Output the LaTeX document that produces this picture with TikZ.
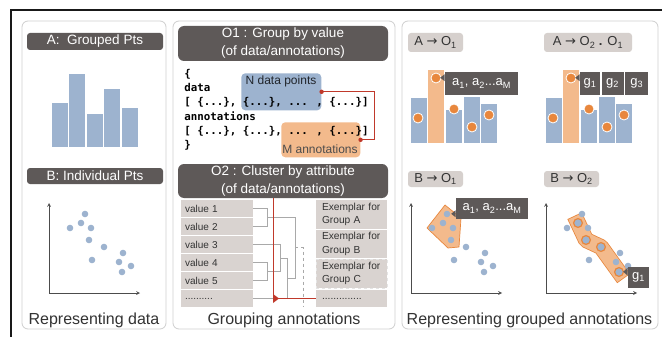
\documentclass[tikz,border=0pt]{standalone}
\usepackage{fontspec}
\setmainfont{Liberation Sans}
\newfontfamily\codefont{DejaVu Sans Mono}
\newfontfamily\arrfont{DejaVu Sans}
\usetikzlibrary{positioning}
\definecolor{darkhead}{HTML}{5E5958}
\definecolor{barblue}{HTML}{9DB3CF}
\definecolor{barorange}{HTML}{F3BA8C}
\definecolor{dotorange}{HTML}{E8873D}
\definecolor{taggray}{HTML}{D6D0CD}
\definecolor{listgray}{HTML}{D9D3D0}
\definecolor{framegray}{HTML}{CFCFCF}
\definecolor{linkred}{HTML}{C0392B}
\definecolor{treegray}{HTML}{A9A9A9}
\definecolor{textdark}{HTML}{333333}
\newcommand{\arr}{{\arrfont →}}
\newcommand{\dotrow}{..........}

\begin{document}
\begin{tikzpicture}[
                x = 1pt,
                y = -1pt,
                >= stealth,
                semithick
                ]

                \tikzstyle{panel}=[
                        draw = framegray,
                        line width = 0.8pt,
                        rounded corners = 6pt,
                        fill = white
                ]
                \tikzstyle{header}=[
                        fill = darkhead,
                        text = white,
                        rounded corners = 3pt,
                        inner sep = 0pt,
                        font = \fontsize{13.5}{18}\selectfont
                ]
                \tikzstyle{tag}=[
                        fill = taggray,
                        text = textdark,
                        rounded corners = 3pt,
                        inner sep = 0pt,
                        font = \fontsize{13}{15}\selectfont
                ]
                \tikzstyle{callout}=[
                        fill = darkhead,
                        text = white,
                        inner sep = 0pt,
                        minimum height = 23pt,
                        font = \fontsize{13}{15}\selectfont
                ]
                \tikzstyle{code}=[
                        anchor = base west,
                        inner sep = 0pt,
                        text = black,
                        font = \codefont\fontsize{10.8}{13}\selectfont\bfseries
                ]
                \tikzstyle{listbox}=[
                        fill = listgray,
                        text = textdark,
                        minimum height = 17pt,
                        inner xsep = 4pt,
                        text width = 64pt,
                        align = left,
                        font = \fontsize{10}{13.3}\selectfont
                ]
                \tikzstyle{exbox}=[
                        fill = listgray,
                        text = textdark,
                        inner xsep = 6pt,
                        inner ysep = 0pt,
                        text width = 59pt,
                        align = left,
                        font = \fontsize{10.2}{13.3}\selectfont
                ]
                \tikzstyle{tree}=[treegray, line width = 0.8pt]
                \tikzstyle{caption}=[anchor = base, text = textdark, font = \fontsize{16}{18}\selectfont]
                \tikzstyle{axis}=[<->, black!70, line width = 0.7pt]
                \tikzstyle{dot}=[fill = dotorange, draw = white, line width = 0.8pt]

                \def\ptlist{21/-65, 32/-70, 36/-79, 42/-65, 40/-53, 55/-46, 43/-33, 74/-40, 70/-31, 82/-27, 73/-21}

                \useasboundingbox (0,0) rectangle (662,337);
                \fill[white] (0,0) rectangle (662,337);
                \draw[line width = 2pt, black!90] (11,337) -- (11,10) -- (662,10);

                % three panels
                \draw[panel] (22,21) rectangle (166,329);
                \draw[panel] (173,21) rectangle (395,329);
                \draw[panel] (402,21) rectangle (658,329);

                % representing data
                \node[header, minimum width = 136pt, minimum height = 17pt] (hA) at (95,41.5) {A:\ \ Grouped Pts};
                \foreach \l/\t in {51/102, 68.5/73, 86/113, 103.5/88, 121/107}
                        \filldraw[fill = barblue, draw = white, line width = 0.8pt] (\l,\t) rectangle (\l+17,147);
                \node[header, minimum width = 136pt, minimum height = 16pt] (hB) at (95,176) {B: Individual Pts};
                \begin{scope}[shift = {(49,293)}]
                        \draw[axis] (0,-90) -- (0,0) -- (91,0);
                        \foreach \px/\py in \ptlist
                                \fill[barblue] (\px,\py) circle (3.3);
                \end{scope}
                \node[caption] (capA) at (94,324.5) {Representing data};

                % grouping annotations
                \node[header, minimum width = 210pt, minimum height = 35pt, rounded corners = 6pt, align = center] (hO1) at (283,43.5) {O1 : Group by value\\(of data/annotations)};
                \node[fill = barblue, rounded corners = 4pt, minimum width = 80pt, minimum height = 37pt, anchor = north west, inner sep = 0pt] (nbox) at (241,73) {};
                \node[fill = barorange, rounded corners = 4pt, minimum width = 79pt, minimum height = 35pt, anchor = north west, inner sep = 0pt] (mbox) at (281,122) {};
                \node[text = black!65!barblue!60!black, font = \fontsize{12}{14}\selectfont] (nlab) at (281,81) {N data points};
                \node[text = black!70, font = \fontsize{12}{14}\selectfont] (mlab) at (320,149) {M annotations};
                \node[code] (c1) at (184,77.4) {\{};
                \node[code] (c2) at (184,91.7) {data};
                \node[code] (c3) at (184,106) {[ \{...\}, \{...\}, ... , \{...\}]};
                \node[code] (c4) at (184,120.3) {annotations};
                \node[code] (c5) at (184,134.6) {[ \{...\}, \{...\}, ... , \{...\}]};
                \node[code] (c6) at (184,148.9) {\}};
                \draw[linkred, line width = 0.9pt] (nbox.east) -- ++(53,0) |- (mbox.east);
                \fill[linkred] (nbox.east) circle (2.2);
                \fill[linkred] (mbox.east) circle (2.2);

                \node[header, minimum width = 210pt, minimum height = 34pt, rounded corners = 6pt, align = center] (hO2) at (283,181) {O2 : Cluster by attribute\\(of data/annotations)};
                \foreach \i/\t in {1/value 1, 2/value 2, 3/value 3, 4/value 4, 5/value 5, 6/\dotrow}
                        \node[listbox] (v\i) at (217,190.5+18*\i) {\t};
                \node[exbox, minimum height = 29pt] (e1) at (351.5,214.5) {Exemplar for\\Group A};
                \node[exbox, minimum height = 28pt] (e2) at (351.5,244) {Exemplar for\\Group B};
                \node[exbox, minimum height = 29pt, draw = white!70!treegray, dashed, line width = 0.5pt] (e3) at (351.5,273.5) {Exemplar for\\Group C};
                \node[exbox, minimum height = 17pt] (e4) at (351.5,298.5) {\dotrow....};

                % dendrogram
                \draw[tree] (v1.east) -- ++(14,0) |- (v2.east);
                \draw[tree] (v4.east) -- ++(14,0) |- (v5.east);
                \draw[tree] (v3.east) -| (280,271.5) -- (267,271.5);
                \draw[tree] (v6.east) -| (287,258) -- (280,258);
                \draw[tree] (267,217.5) -| (295,278) -- (287,278);
                \draw[tree, dashed] (295,247.5) -| (303,306);
                \coordinate (rtop) at (273,198);
                \draw[linkred, line width = 0.9pt] (rtop) -- (273,298.5);
                \draw[linkred, line width = 0.9pt] (e4.west) -- (276,298.5);
                \fill[linkred] (273,294) -- (279,298.5) -- (273,303) -- cycle;
                \node[caption] (capB) at (284,324.5) {Grouping annotations};

                % representing grouped annotations
                \node[tag, minimum width = 55pt, minimum height = 19pt] (t1) at (435.5,42.5) {A \arr{} O\textsubscript{1}};
                \node[tag, minimum width = 88pt, minimum height = 19pt] (t2) at (588,42.5) {A \arr{} O\textsubscript{2} \textbf{.} O\textsubscript{1}};
                \foreach \s in {410,545}
                {
                        \begin{scope}[shift = {(\s,0)}]
                                \foreach \l/\t/\c in {0/97/barblue, 17.5/69/barorange, 35.5/109/barblue, 53/96/barblue, 70.5/103/barblue}
                                        \filldraw[fill = \c, draw = white, line width = 0.8pt] (\l,\t) rectangle (\l+17,143);
                                \foreach \dx/\dy in {26/78, 8/118, 44/109, 62/127, 79/115}
                                        \filldraw[dot] (\dx,\dy) circle (5);
                        \end{scope}
                }
                \node[callout, minimum width = 73pt] (ca) at (481.5,83.5) {a\textsubscript{1}, a\textsubscript{2}...a\textsubscript{M}};
                \fill[darkhead] (ca.north west) ++(0,2.5) -- ++(-4.5,3.5) -- ++(4.5,3.5) -- cycle;
                \node[callout, minimum width = 20pt] (g1) at (590,83.5) {g\textsubscript{1}};
                \node[callout, minimum width = 22pt, right = 1pt of g1] (g2) {g\textsubscript{2}};
                \node[callout, minimum width = 23pt, right = 1pt of g2] (g3) {g\textsubscript{3}};
                \fill[darkhead] (g1.north west) ++(0,2.5) -- ++(-4.5,3.5) -- ++(4.5,3.5) -- cycle;

                \node[tag, minimum width = 55pt, minimum height = 16pt] (t3) at (435.5,179) {B \arr{} O\textsubscript{1}};
                \node[tag, minimum width = 55pt, minimum height = 16pt] (t4) at (571.5,179) {B \arr{} O\textsubscript{2}};
                \filldraw[fill = barorange, draw = dotorange, line width = 0.7pt, line join = round] (445,205) -- (461,218) -- (459,247) -- (448,248) -- (427,228) -- cycle;
                \begin{scope}[shift = {(411,293)}]
                        \draw[axis] (0,-90) -- (0,0) -- (91,0);
                        \foreach \px/\py in \ptlist
                                \fill[barblue] (\px,\py) circle (3.3);
                \end{scope}
                \node[callout, minimum width = 72pt, minimum height = 21pt] (cb) at (492,208.5) {a\textsubscript{1}, a\textsubscript{2}...a\textsubscript{M}};
                \fill[darkhead] (cb.south west) ++(0,-9) -- ++(-4.5,3.5) -- ++(4.5,3.5) -- cycle;

                \begin{scope}[shift = {(546,293)}]
                        \draw[axis] (0,-90) -- (0,0) -- (91,0);
                        \draw[dotorange, line width = 16pt, line cap = rect, line join = bevel] (32,-70) -- (40,-53) -- (55,-46) -- (73,-21);
                        \draw[barorange, line width = 14.4pt, line cap = rect, line join = bevel] (32,-70) -- (40,-53) -- (55,-46) -- (73,-21);
                        \foreach \px/\py in \ptlist
                                \fill[barblue] (\px,\py) circle (3.3);
                        \foreach \px/\py in {32/-70, 40/-53, 55/-46, 73/-21}
                                \filldraw[fill = barblue, draw = dotorange, line width = 1.2pt] (\px,\py) circle (4.4);
                \end{scope}
                \node[callout, minimum width = 21pt, minimum height = 21pt] (gb) at (638.5,277.5) {g\textsubscript{1}};
                \fill[darkhead] (gb.north west) ++(0,1) -- ++(-4.5,4) -- ++(4.5,4) -- cycle;
                \node[caption] (capC) at (529.5,324.5) {Representing grouped annotations};
\end{tikzpicture}
\end{document}
